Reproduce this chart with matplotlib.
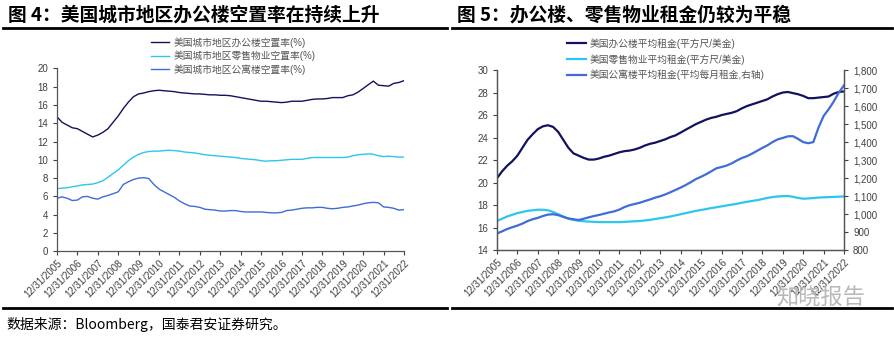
import matplotlib
matplotlib.use('Agg')
import matplotlib.pyplot as plt
import matplotlib.dates as mdates
import matplotlib.ticker as mticker
import pandas as pd

# Fuentes: Liberation Sans para numeros, Noto CJK para chino
plt.rcParams['font.family'] = ['Liberation Sans', 'Noto Sans CJK SC']
plt.rcParams['axes.unicode_minus'] = False

# Fechas trimestrales 12/31/2005 - 12/31/2022
fechas = pd.date_range('2005-12-31', periods=69, freq=pd.offsets.QuarterEnd())
ticks_anuales = pd.date_range('2005-12-31', '2022-12-31', freq=pd.offsets.YearEnd())

# Figura 4: tasas de vacancia (%)
vac_oficinas = [14.7, 14.1, 13.8, 13.5, 13.4, 13.1, 12.8, 12.5, 12.7, 13.0, 13.4, 14.1,
                14.8, 15.6, 16.3, 16.9, 17.2, 17.3, 17.45, 17.55, 17.6, 17.55, 17.5, 17.45,
                17.35, 17.3, 17.25, 17.2, 17.2, 17.15, 17.1, 17.1, 17.05, 17.05, 17.0, 16.9,
                16.8, 16.7, 16.6, 16.5, 16.4, 16.4, 16.35, 16.3, 16.25, 16.3, 16.4, 16.4,
                16.4, 16.5, 16.6, 16.65, 16.65, 16.7, 16.8, 16.8, 16.8, 17.0, 17.1, 17.4,
                17.8, 18.2, 18.6, 18.15, 18.1, 18.05, 18.35, 18.45, 18.65]
vac_comercio = [6.85, 6.9, 6.95, 7.05, 7.15, 7.25, 7.3, 7.35, 7.5, 7.7, 8.1, 8.5,
                8.9, 9.4, 9.9, 10.3, 10.6, 10.8, 10.9, 10.95, 10.95, 11.0, 11.05, 11.0,
                10.95, 10.85, 10.8, 10.75, 10.65, 10.55, 10.5, 10.45, 10.4, 10.35, 10.3, 10.25,
                10.15, 10.1, 10.05, 10.0, 9.9, 9.85, 9.9, 9.9, 9.95, 10.0, 10.05, 10.05,
                10.05, 10.15, 10.25, 10.25, 10.25, 10.25, 10.25, 10.25, 10.25, 10.3, 10.45, 10.55,
                10.6, 10.65, 10.6, 10.45, 10.35, 10.4, 10.35, 10.3, 10.3]
vac_apartamentos = [5.8, 5.95, 5.8, 5.55, 5.6, 5.95, 6.0, 5.8, 5.7, 5.95, 6.1, 6.3,
                    6.5, 7.3, 7.6, 7.85, 8.0, 8.05, 7.95, 7.3, 6.8, 6.5, 6.2, 5.9,
                    5.5, 5.2, 4.95, 4.9, 4.8, 4.6, 4.55, 4.5, 4.4, 4.4, 4.45, 4.45,
                    4.35, 4.3, 4.3, 4.3, 4.3, 4.25, 4.2, 4.2, 4.25, 4.45, 4.5, 4.6,
                    4.7, 4.75, 4.75, 4.8, 4.8, 4.7, 4.65, 4.7, 4.8, 4.85, 4.95, 5.05,
                    5.2, 5.3, 5.35, 5.3, 4.85, 4.8, 4.7, 4.5, 4.55]

# Figura 5: rentas
renta_oficinas = [20.4, 21.0, 21.5, 21.9, 22.4, 23.1, 23.8, 24.3, 24.75, 25.0, 25.1, 24.95,
                  24.5, 23.8, 23.1, 22.6, 22.4, 22.2, 22.05, 22.05, 22.15, 22.3, 22.4, 22.55,
                  22.7, 22.8, 22.85, 22.95, 23.1, 23.3, 23.45, 23.55, 23.7, 23.85, 24.05, 24.2,
                  24.45, 24.7, 24.95, 25.2, 25.4, 25.6, 25.75, 25.85, 26.0, 26.1, 26.2, 26.35,
                  26.6, 26.8, 26.95, 27.1, 27.25, 27.4, 27.65, 27.85, 28.0, 28.05, 27.95, 27.85,
                  27.7, 27.5, 27.5, 27.55, 27.6, 27.65, 27.9, 28.05, 28.1]
renta_comercio = [16.6, 16.8, 17.0, 17.15, 17.3, 17.4, 17.5, 17.55, 17.6, 17.6, 17.55, 17.4,
                  17.2, 17.0, 16.8, 16.7, 16.62, 16.58, 16.55, 16.52, 16.5, 16.5, 16.5, 16.5,
                  16.5, 16.52, 16.55, 16.58, 16.6, 16.65, 16.7, 16.78, 16.85, 16.92, 17.0, 17.1,
                  17.2, 17.3, 17.4, 17.5, 17.58, 17.66, 17.75, 17.82, 17.9, 17.98, 18.05, 18.13,
                  18.22, 18.3, 18.38, 18.45, 18.55, 18.65, 18.72, 18.78, 18.8, 18.82, 18.75, 18.65,
                  18.58, 18.6, 18.64, 18.68, 18.7, 18.72, 18.74, 18.76, 18.78]
renta_apartamentos = [893, 905, 918, 928, 937, 948, 962, 972, 980, 990, 998, 1000,
                      995, 985, 977, 972, 968, 975, 983, 990, 996, 1003, 1010, 1016,
                      1026, 1040, 1050, 1057, 1064, 1073, 1082, 1092, 1100, 1110, 1122, 1135,
                      1148, 1162, 1178, 1195, 1208, 1222, 1238, 1255, 1262, 1270, 1282, 1298,
                      1312, 1322, 1336, 1352, 1368, 1382, 1400, 1415, 1423, 1432, 1433, 1418,
                      1400, 1394, 1400, 1480, 1545, 1582, 1625, 1675, 1715]

etiquetas_4 = ['美国城市地区办公楼空置率(%)', '美国城市地区零售物业空置率(%)', '美国城市地区公寓楼空置率(%)']
etiquetas_5 = ['美国办公楼平均租金(平方尺/美金)', '美国零售物业平均租金(平方尺/美金)', '美国公寓楼平均租金(平均每月租金,右轴)']

AZUL_OSCURO = '#12125e'
CIAN = '#2cc6ef'
AZUL = '#3f6cd6'
GRIS = '#404040'


def formato_eje(ax):
    ax.set_xlim(fechas[0], fechas[-1])
    ax.set_xticks(ticks_anuales)
    ax.xaxis.set_major_formatter(mdates.DateFormatter('%m/%d/%Y'))
    for lbl in ax.get_xticklabels():
        lbl.set_rotation(45)
        lbl.set_ha('right')
        lbl.set_rotation_mode('anchor')
    ax.tick_params(axis='both', labelsize=7, colors=GRIS, length=3, width=0.8,
                   direction='out')
    ax.tick_params(axis='x', pad=2)
    ax.spines['top'].set_visible(False)
    for s in ['left', 'bottom', 'right']:
        ax.spines[s].set_color('#555555')
        ax.spines[s].set_linewidth(0.9)


fig = plt.figure(figsize=(8.95, 3.40), dpi=100)

# ---- Figura 4 ----
ax1 = fig.add_axes([57 / 895, 1 - 251.3 / 340, 347 / 895, 183 / 340])
ax1.plot(fechas, vac_oficinas, color=AZUL_OSCURO, lw=1.0, label=etiquetas_4[0])
ax1.plot(fechas, vac_comercio, color=CIAN, lw=1.0, label=etiquetas_4[1])
ax1.plot(fechas, vac_apartamentos, color=AZUL, lw=1.0, label=etiquetas_4[2])
ax1.set_ylim(0, 20)
ax1.set_yticks(range(0, 21, 2))
formato_eje(ax1)
ax1.spines['right'].set_visible(False)
fig.legend(handles=ax1.get_lines(), loc='upper left',
           bbox_to_anchor=(151 / 895, 1 - 37 / 340), frameon=False,
           fontsize=7, handlelength=1.9, handletextpad=0.4, labelspacing=0.3,
           borderpad=0, borderaxespad=0, labelcolor='#555555')

# ---- Figura 5 ----
ax2 = fig.add_axes([497 / 895, 1 - 250.3 / 340, 347 / 895, 180.3 / 340])
ax3 = ax2.twinx()
l1, = ax2.plot(fechas, renta_oficinas, color=AZUL_OSCURO, lw=1.6, label=etiquetas_5[0])
l2, = ax2.plot(fechas, renta_comercio, color=CIAN, lw=1.6, label=etiquetas_5[1])
l3, = ax3.plot(fechas, renta_apartamentos, color=AZUL, lw=1.6, label=etiquetas_5[2])
ax2.set_ylim(14, 30)
ax2.set_yticks(range(14, 31, 2))
ax3.set_ylim(800, 1800)
ax3.set_yticks(range(800, 1801, 100))
ax3.yaxis.set_major_formatter(mticker.StrMethodFormatter('{x:,.0f}'))
formato_eje(ax2)
formato_eje(ax3)
fig.legend(handles=[l1, l2, l3], loc='upper left',
           bbox_to_anchor=(567 / 895, 1 - 38 / 340), frameon=False,
           fontsize=7, handlelength=2.0, handletextpad=0.3, labelspacing=0.55,
           borderpad=0, borderaxespad=0, labelcolor='#555555')

# Titulos y lineas
fig.text(8 / 895, 1 - 15 / 340, '图 4：美国城市地区办公楼空置率在持续上升', fontsize=13.5,
         fontweight='bold', va='center', ha='left', family=['Noto Sans CJK SC'])
fig.text(457 / 895, 1 - 15 / 340, '图 5：办公楼、零售物业租金仍较为平稳', fontsize=13.5,
         fontweight='bold', va='center', ha='left', family=['Noto Sans CJK SC'])
for x0, x1 in [(3, 447), (452, 892)]:
    fig.add_artist(plt.Line2D([x0 / 895, x1 / 895], [1 - 28 / 340] * 2, color='black', lw=2))
    fig.add_artist(plt.Line2D([x0 / 895, x1 / 895], [1 - 308 / 340] * 2, color='black', lw=2))

fig.text(6 / 895, 1 - 325 / 340, '数据来源：Bloomberg，国泰君安证券研究。', fontsize=10,
         va='center', ha='left', family=['Noto Sans CJK SC'])
fig.text(865 / 895, 1 - 298 / 340, '知晓报告', fontsize=16, color='#b8b8b8',
         va='center', ha='right', family=['Noto Sans CJK SC'])

fig.savefig('out.png', dpi=100)
